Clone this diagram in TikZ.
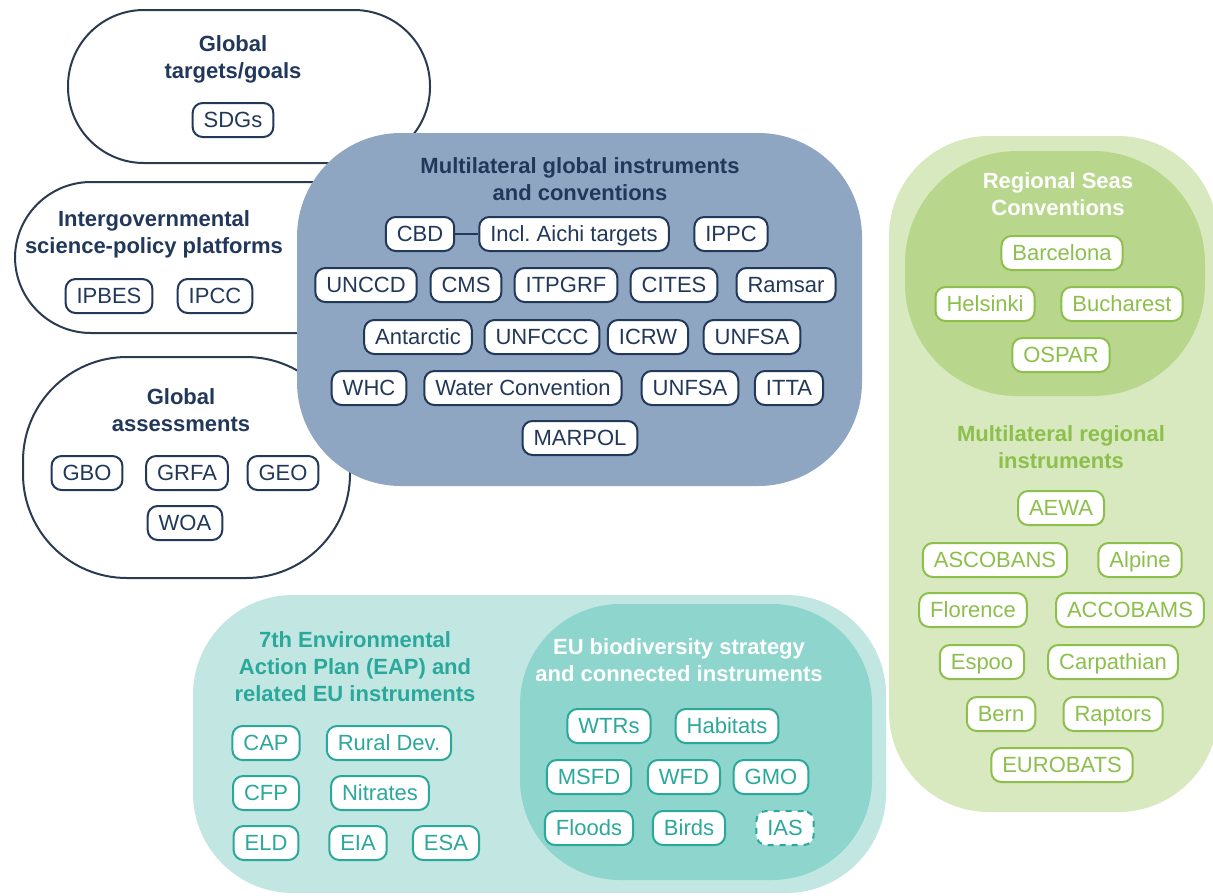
\documentclass[tikz,border=0pt]{standalone}
\usepackage{fontspec}
\setmainfont{Liberation Sans}
\frenchspacing
\definecolor{navy}{HTML}{22385A}
\definecolor{bluefill}{HTML}{8EA6C1}
\definecolor{edge}{HTML}{2A3B50}
\definecolor{gOuter}{HTML}{D8E9BF}
\definecolor{gInner}{HTML}{B8D78D}
\definecolor{gText}{HTML}{8CBF4B}
\definecolor{tOuter}{HTML}{C2E7E2}
\definecolor{tInner}{HTML}{8ED6CD}
\definecolor{tText}{HTML}{2BA89C}
\tikzset{
 pill/.style={rounded corners=5pt, fill=white, line width=1pt, minimum height=17pt, text height=7.9pt, text depth=0pt, inner xsep=5.5pt, inner ysep=0pt, font=\fontsize{11}{13}\selectfont},
 bpill/.style={pill, draw=navy, text=navy},
 gpill/.style={pill, draw=gText, text=gText},
 tpill/.style={pill, draw=tText, text=tText},
 ttl/.style={align=center, font=\fontsize{11}{13.5}\selectfont\bfseries},
 wbox/.style={fill=white, draw=edge, line width=1pt},
}
\begin{document}
\begin{tikzpicture}[x=0.5pt,y=-0.5pt]
\clip (0,0) rectangle (1213,895);
\fill[white] (0,0) rectangle (1213,895);
% white boxes
\draw[wbox, rounded corners=38pt] (68,10) rectangle (430,163);
\draw[wbox, rounded corners=38pt] (15,182) rectangle (420,333);
\draw[wbox, rounded corners=52pt] (23,357) rectangle (350,578);
% blue box
\fill[bluefill, rounded corners=52pt] (297,133) rectangle (862,486);
% green
\fill[gOuter, rounded corners=50pt] (889,136) rectangle (1218,812);
\fill[gInner, rounded corners=56pt] (905,151) rectangle (1205,396);
% teal
\fill[tOuter, rounded corners=50pt] (193,595) rectangle (886,893);
\fill[tInner, rounded corners=50pt] (520,604) rectangle (872,880);

% Global targets
\node[ttl, text=navy] (tg) at (233,59) {Global\\targets/goals};
\node[bpill] (sdg) at (233,120) {SDGs};
% Intergovernmental
\node[ttl, text=navy] (ig) at (154,234) {Intergovernmental\\science-policy platforms};
\node[bpill] (ipbes) at (109,296) {IPBES};
\node[bpill] (ipcc) at (215,296) {IPCC};
% Global assessments
\node[ttl, text=navy] (ga) at (181,410) {Global\\assessments};
\node[bpill] (gbo) at (87,473) {GBO};
\node[bpill] (grfa) at (187,473) {GRFA};
\node[bpill] (geo) at (283,473) {GEO};
\node[bpill] (woa) at (185,523) {WOA};
% Multilateral global
\node[ttl, text=navy] (mg) at (580,179) {Multilateral global instruments\\and conventions};
\node[bpill] (cbd) at (420,234) {CBD};
\node[bpill] (aichi) at (574,234) {Incl. Aichi targets};
\node[bpill] (ippc) at (731,234) {IPPC};
\draw[navy, line width=1pt] (cbd) -- (aichi);
\node[bpill] (unccd) at (366,285) {UNCCD};
\node[bpill] (cms) at (466,285) {CMS};
\node[bpill] (itpgrf) at (566,285) {ITPGRF};
\node[bpill] (cites) at (674,285) {CITES};
\node[bpill] (ramsar) at (786,285) {Ramsar};
\node[bpill] (antarctic) at (418,337) {Antarctic};
\node[bpill] (unfccc) at (542,337) {UNFCCC};
\node[bpill] (icrw) at (648,337) {ICRW};
\node[bpill] (unfsa) at (752,337) {UNFSA};
\node[bpill] (whc) at (369,388) {WHC};
\node[bpill] (water) at (523,388) {Water Convention};
\node[bpill] (unfsab) at (690,388) {UNFSA};
\node[bpill] (itta) at (789,388) {ITTA};
\node[bpill] (marpol) at (580,438) {MARPOL};
% Regional seas
\node[ttl, text=white] (rs) at (1058,194) {Regional Seas\\Conventions};
\node[gpill] (barcelona) at (1062,253) {Barcelona};
\node[gpill] (helsinki) at (985,304) {Helsinki};
\node[gpill] (bucharest) at (1122,304) {Bucharest};
\node[gpill] (ospar) at (1061,355) {OSPAR};
\node[ttl, text=gText] (mr) at (1061,447) {Multilateral regional\\instruments};
\node[gpill] (aewa) at (1061,508) {AEWA};
\node[gpill] (ascobans) at (995,560) {ASCOBANS};
\node[gpill] (alpine) at (1140,560) {Alpine};
\node[gpill] (florence) at (973,610) {Florence};
\node[gpill] (accobams) at (1130,610) {ACCOBAMS};
\node[gpill] (espoo) at (982,662) {Espoo};
\node[gpill] (carpathian) at (1113,662) {Carpathian};
\node[gpill] (bern) at (1001,714) {Bern};
\node[gpill] (raptors) at (1113,714) {Raptors};
\node[gpill] (eurobats) at (1062,765) {EUROBATS};
% EAP
\node[ttl, text=tText] (eap) at (355,667) {7th Environmental\\Action Plan (EAP) and\\related EU instruments};
\node[tpill] (cap) at (266,743) {CAP};
\node[tpill] (rural) at (389,743) {Rural Dev.};
\node[tpill] (cfp) at (266,793) {CFP};
\node[tpill] (nitrates) at (380,793) {Nitrates};
\node[tpill] (eld) at (266,843) {ELD};
\node[tpill] (eia) at (358,843) {EIA};
\node[tpill] (esa) at (446,843) {ESA};
% EU biodiversity
\node[ttl, text=white] (eub) at (679,660) {EU biodiversity strategy\\and connected instruments};
\node[tpill] (wtrs) at (609,726) {WTRs};
\node[tpill] (habitats) at (727,726) {Habitats};
\node[tpill] (msfd) at (589,777) {MSFD};
\node[tpill] (wfd) at (684,777) {WFD};
\node[tpill] (gmo) at (771,777) {GMO};
\node[tpill] (floods) at (589,828) {Floods};
\node[tpill] (birds) at (689,828) {Birds};
\node[tpill, dashed] (ias) at (785,828) {IAS};
\end{tikzpicture}
\end{document}
